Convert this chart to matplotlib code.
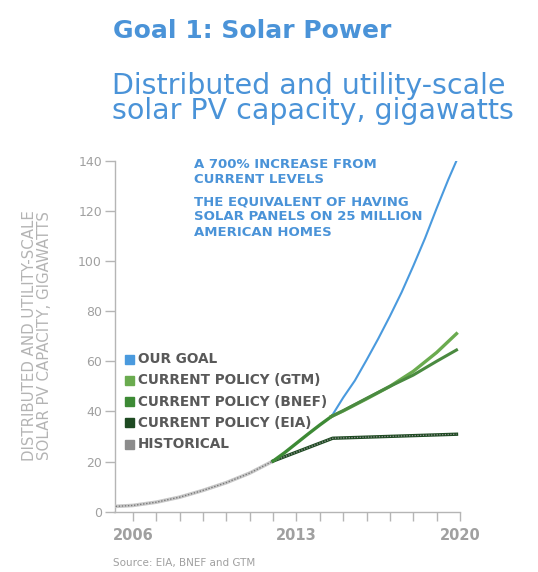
import matplotlib
matplotlib.use("Agg")
import matplotlib.pyplot as plt
from matplotlib.patches import Rectangle

W, H = 538, 572

# historical capacity, GW
hist_years = [2005, 2006, 2007, 2008, 2009, 2010, 2011, 2012]
hist_gw = [2.0, 2.5, 3.8, 5.8, 8.5, 11.6, 15.4, 20.2]

# shared ramp of the projections up to mid 2014
ramp_years = [2012, 2012.5, 2013, 2013.5, 2014, 2014.5]
ramp_gw = [20.2, 23.6, 27.3, 31.0, 34.6, 38.0]

goal_years = [2014.5, 2015, 2015.5, 2016, 2016.5, 2017, 2017.5, 2018, 2018.5,
              2019, 2019.5, 2019.85]
goal_gw = [38.0, 45.5, 52.3, 60.5, 69.0, 78.0, 87.5, 98.0, 109.0, 121.0, 132.5, 140.0]

proj_years = [2014.5, 2015, 2016, 2017, 2018, 2019, 2019.85]
gtm_gw = [38.0, 40.2, 45.0, 50.0, 56.0, 63.5, 71.0]
bnef_gw = [38.0, 40.3, 45.2, 50.0, 54.5, 60.0, 64.5]

eia_years = [2012, 2014.55, 2019.85]
eia_gw = [20.2, 29.3, 30.9]

legend_labels = ["OUR GOAL", "CURRENT POLICY (GTM)", "CURRENT POLICY (BNEF)",
                 "CURRENT POLICY (EIA)", "HISTORICAL"]
legend_colors = ["#4a9ade", "#6aab4f", "#3d8a35", "#1e4a22", "#8c8c8c"]

BLUE = "#4a93d8"
GOAL = "#4a9ade"
GTM = "#6aab4f"
BNEF = "#3d8a35"
EIA = "#1e4a22"
AXC = "#b5b5b5"
TICKC = "#a0a0a0"


def fx(x):
    return x / W


def fy(y):
    return 1 - y / H


fig = plt.figure(figsize=(W / 100, H / 100), dpi=100)
fig.patch.set_facecolor("white")

ax = fig.add_axes([fx(114.5), fy(511.7), (460 - 114.5) / W, (511.7 - 160.7) / H])
ax.set_xlim(2005.21, 2020)
ax.set_ylim(0, 140)

# historical: light grey with darker dotted texture
ax.plot(hist_years, hist_gw, color="#c8c8c8", lw=2.6, solid_capstyle="butt", zorder=3)
ax.plot(hist_years, hist_gw, color="#7a7a7a", lw=1.0, ls=(0, (1, 1.2)), zorder=4)

# EIA: dark green with grey texture
ax.plot(eia_years, eia_gw, color=EIA, lw=2.4, zorder=3)
ax.plot(eia_years, eia_gw, color="#9a9a9a", lw=0.9, ls=(0, (1, 1.2)), zorder=4)

ax.plot(ramp_years, ramp_gw, color=BNEF, lw=2.4, zorder=5)
ax.plot(goal_years, goal_gw, color=GOAL, lw=1.5, zorder=4)
ax.plot(proj_years, gtm_gw, color=GTM, lw=2.4, zorder=5)
ax.plot(proj_years, bnef_gw, color="#4a8a40", lw=2.2, zorder=5)

for s in ["top", "right"]:
    ax.spines[s].set_visible(False)
for s in ["left", "bottom"]:
    ax.spines[s].set_color(AXC)
    ax.spines[s].set_linewidth(1.0)

ax.set_yticks(range(0, 141, 20))
ax.set_xticks(range(2006, 2021))
ax.set_xticklabels([str(y) if y in (2006, 2013, 2020) else "" for y in range(2006, 2021)])
ax.tick_params(axis="y", length=7, width=1, color=AXC, labelcolor=TICKC,
               labelsize=9, pad=2)
ax.tick_params(axis="x", length=6.5, width=1, color=AXC, labelcolor=TICKC,
               labelsize=10.5, pad=5)
for t in ax.get_xticklabels():
    t.set_fontweight("bold")

# titles
fig.text(fx(113), fy(31), "Goal 1: Solar Power", color=BLUE, fontsize=18,
         fontweight="bold", family="DejaVu Sans", ha="left", va="center")
fig.text(fx(112), fy(119), "Distributed and utility-scale\nsolar PV capacity, gigawatts",
         color=BLUE, fontsize=20.5, family="DejaVu Sans", ha="left", va="baseline",
         linespacing=0.88)

# annotation
fig.text(fx(194), fy(172), "A 700% INCREASE FROM\nCURRENT LEVELS", color=BLUE,
         fontsize=9.5, fontweight="bold", ha="left", va="center", linespacing=1.2)
fig.text(fx(194), fy(217), "THE EQUIVALENT OF HAVING\nSOLAR PANELS ON 25 MILLION\nAMERICAN HOMES",
         color=BLUE, fontsize=9.5, fontweight="bold", ha="left", va="center",
         linespacing=1.2)

# legend
for i, (lab, col) in enumerate(zip(legend_labels, legend_colors)):
    y = 359 + i * 21.3
    fig.patches.append(Rectangle((fx(124.5), fy(y + 4.5)), 9 / W, 9 / H,
                                 transform=fig.transFigure, color=col))
    fig.text(fx(138), fy(y), lab, color="#595959", fontsize=9.8,
             fontweight="bold", ha="left", va="center")

# y axis label
fig.text(fx(37.5), fy(336), "DISTRIBUTED AND UTILITY-SCALE\nSOLAR PV CAPACITY, GIGAWATTS",
         color="#b4b4b4", fontsize=10.8, rotation=90, ha="center", va="center",
         linespacing=1.0)

fig.text(fx(113), fy(563), "Source: EIA, BNEF and GTM", color="#a0a0a0",
         fontsize=7.5, ha="left", va="center")

fig.savefig("out.png", dpi=100)
